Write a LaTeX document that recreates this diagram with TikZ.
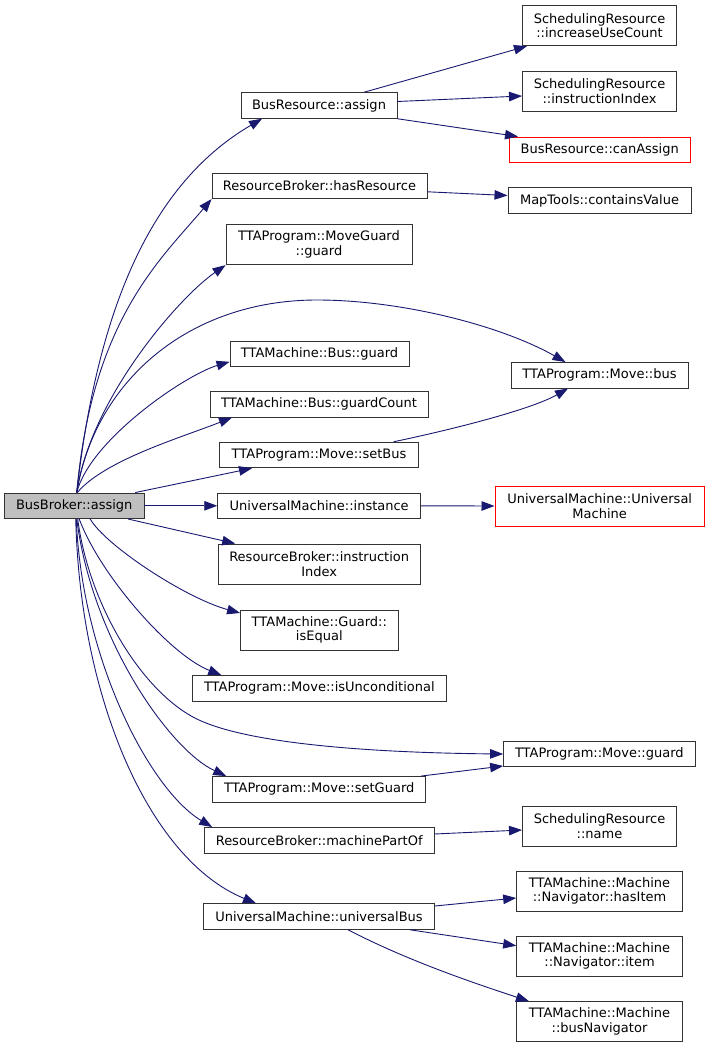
\documentclass[tikz,border=0pt]{standalone}
\usepackage{fontspec}
\setmainfont{DejaVu Sans}
\usetikzlibrary{arrows.meta}
\definecolor{edgeblue}{HTML}{191970}
\definecolor{nodegray}{HTML}{BFBFBF}

\begin{document}
\begin{tikzpicture}[x=1pt,y=-1pt,
    fn/.style={draw=black!80,line width=0.9pt,fill=white,inner sep=0pt,align=center,
      minimum height=25.6pt,font=\fontsize{13}{14.6}\selectfont},
    fn2/.style={fn,minimum height=40pt},
    edge/.style={draw=edgeblue,line width=0.9pt,-{Triangle[length=13pt,width=9.5pt]}}]
        \useasboundingbox (0,0) rectangle (709,1048);

        % Caller
        \node[fn,fill=nodegray,minimum width=139.5pt] (bb) at (74.25,505.8) {BusBroker::assign};

        % Direct callees
        \node[fn,minimum width=156pt] (bra) at (319,105.5) {BusResource::assign};
        \node[fn,minimum width=215pt] (rbh) at (319.5,185.8) {ResourceBroker::hasResource};
        \node[fn2,minimum width=186pt] (mgg) at (319,244.7) {TTAProgram::MoveGuard\\::guard};
        \node[fn,minimum width=179pt] (bgd) at (319.5,353.8) {TTAMachine::Bus::guard};
        \node[fn,minimum width=218pt] (bgc) at (319,404.3) {TTAMachine::Bus::guardCount};
        \node[fn,minimum width=199pt] (msb) at (319,455) {TTAProgram::Move::setBus};
        \node[fn,minimum width=203pt] (umi) at (319.2,505.8) {UniversalMachine::instance};
        \node[fn2,minimum width=201.5pt] (rbi) at (319.2,564) {ResourceBroker::instruction\\Index};
        \node[fn2,minimum width=157.5pt] (gie) at (319.3,630) {TTAMachine::Guard::\\isEqual};
        \node[fn,minimum width=254.6pt] (miu) at (319.3,688.3) {TTAProgram::Move::isUnconditional};
        \node[fn,minimum width=213pt] (msg) at (319.2,789.3) {TTAProgram::Move::setGuard};
        \node[fn,minimum width=229.5pt] (rbm) at (319.2,840.3) {ResourceBroker::machinePartOf};
        \node[fn,minimum width=230.8pt] (umb) at (319,916.5) {UniversalMachine::universalBus};

        % Second level
        \node[fn2,minimum width=154pt] (sinc) at (599.5,25.7) {SchedulingResource\\::increaseUseCount};
        \node[fn2,minimum width=154pt] (sidx) at (599.5,91) {SchedulingResource\\::instructionIndex};
        \node[fn,draw=red,minimum width=180.5pt] (bca) at (599.7,149.8) {BusResource::canAssign};
        \node[fn,minimum width=183pt] (mtc) at (599.5,200.5) {MapTools::containsValue};
        \node[fn,minimum width=177pt] (mvb) at (599.5,375.3) {TTAProgram::Move::bus};
        \node[fn2,draw=red,minimum width=209.5pt] (umu) at (599.7,506) {UniversalMachine::Universal\\Machine};
        \node[fn,minimum width=191.4pt] (mvg) at (599.3,754) {TTAProgram::Move::guard};
        \node[fn2,minimum width=154pt] (srn) at (599.5,826) {SchedulingResource\\::name};
        \node[fn2,minimum width=165.7pt] (nhi) at (599.5,891) {TTAMachine::Machine\\::Navigator::hasItem};
        \node[fn2,minimum width=165.7pt] (nit) at (599.5,956) {TTAMachine::Machine\\::Navigator::item};
        \node[fn2,minimum width=165.7pt] (mbn) at (599.5,1021.7) {TTAMachine::Machine\\::busNavigator};

        % Calls from the caller, upper fan
        \draw[edge] ([xshift=2.5pt]bb.north) .. controls (99,293) and (159,179) .. ([xshift=-57pt]bra.south);
        \draw[edge] ([xshift=2.5pt]bb.north) .. controls (92,320) and (160,260) .. (rbh.south west);
        \draw[edge] ([xshift=2.5pt]bb.north) .. controls (90,400) and (178,298) .. (mgg.south west);
        \draw[edge] ([xshift=2.5pt]bb.north) .. controls (95,380) and (190,300) .. (317,300)
                    .. controls (400,300) and (500,325) .. ([xshift=-34pt]mvb.north);
        \draw[edge] ([xshift=2.5pt]bb.north) .. controls (90,440) and (185,375) .. ([yshift=-8pt]bgd.west);
        \draw[edge] ([xshift=3pt]bb.north) .. controls (105,460) and (180,438) .. ([xshift=-87pt]bgc.south);
        \draw[edge] ([xshift=61pt]bb.north) -- ([xshift=-67pt]msb.south);
        \draw[edge] (bb.east) -- (umi.west);

        % Calls from the caller, lower fan
        \draw[edge] ([xshift=54pt]bb.south) -- ([xshift=-84pt]rbi.north);
        \draw[edge] ([xshift=16pt]bb.south) .. controls (105,545) and (185,598) .. ([yshift=17pt]gie.west);
        \draw[edge] ([xshift=5pt]bb.south) .. controls (100,575) and (170,655) .. ([xshift=-98pt]miu.north);
        \draw[edge] ([xshift=3.5pt]bb.south) .. controls (88,600) and (138,687) .. (193,717)
                    .. controls (248,747) and (400,753) .. (mvg.west);
        \draw[edge] ([xshift=2.5pt]bb.south) .. controls (92,640) and (170,750) .. ([xshift=-93pt]msg.north);
        \draw[edge] ([xshift=2pt]bb.south) .. controls (82,660) and (150,790) .. ([xshift=-107pt]rbm.north);
        \draw[edge] ([xshift=1.5pt]bb.south) .. controls (80,700) and (150,860) .. ([xshift=-63pt]umb.north);

        % Second level calls
        \draw[edge] ([xshift=45pt]bra.north) -- ([xshift=-72.5pt]sinc.south);
        \draw[edge] ([yshift=4pt]bra.east) -- ([yshift=-5pt]sidx.west);
        \draw[edge] (bra.south east) -- ([xshift=-81.7pt]bca.north);
        \draw[edge] ([yshift=-6pt]rbh.east) -- ([yshift=5pt]mtc.west);
        \draw[edge] ([xshift=74.7pt]msb.north) .. controls (450,430) and (530,410) .. ([xshift=-31.5pt]mvb.south);
        \draw[edge] (umi.east) -- (umu.west);
        \draw[edge] ([xshift=-5pt]msg.north east) -- ([yshift=-12pt]mvg.west);
        \draw[edge] ([yshift=6.3pt]rbm.east) -- ([yshift=-4pt]srn.west);
        \draw[edge] ([yshift=10.5pt]umb.east) -- ([yshift=-7pt]nhi.west);
        \draw[edge] ([xshift=-25pt]umb.south east) -- ([yshift=10.3pt]nit.west);
        \draw[edge] ([xshift=29pt]umb.south) .. controls (410,962) and (480,985) .. ([xshift=-70.5pt]mbn.north);
    \end{tikzpicture}
\end{document}
